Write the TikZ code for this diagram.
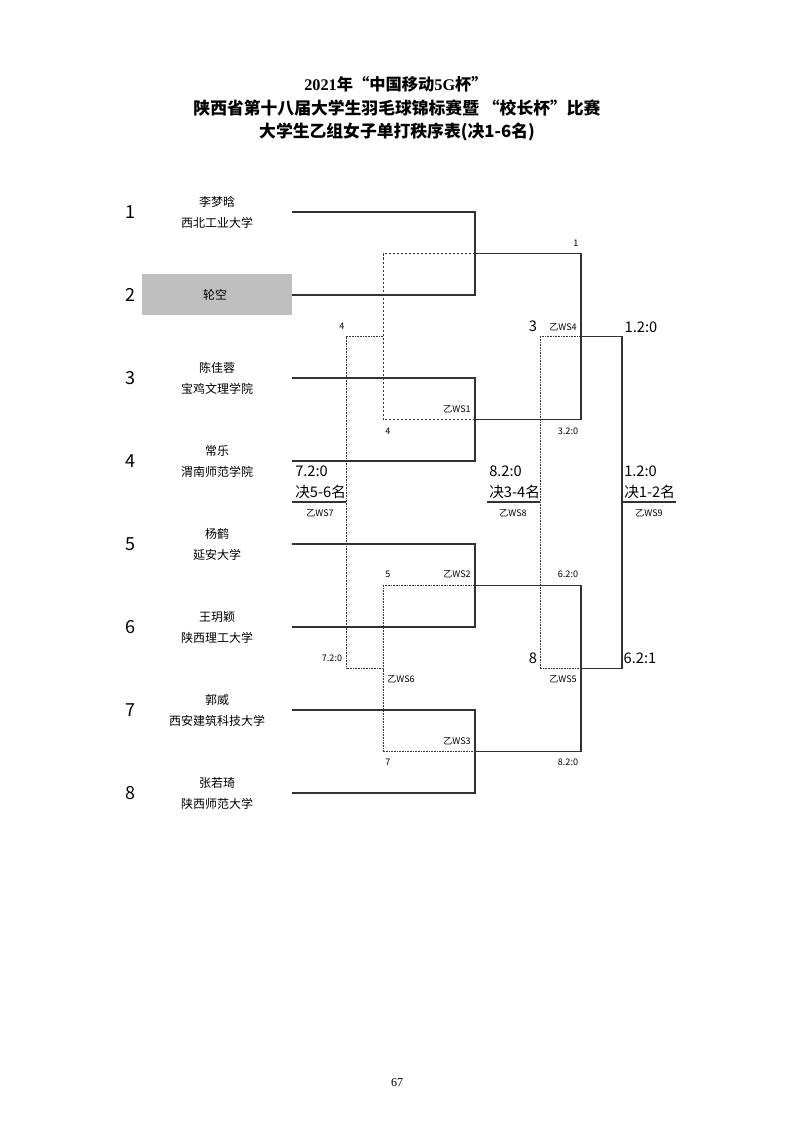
\documentclass[tikz,border=0pt]{standalone}
\usepackage{fontspec}
\setmainfont{Noto Sans CJK SC}
\newfontfamily\seriffont{Liberation Serif}
\usetikzlibrary{positioning}

\definecolor{byegray}{RGB}{191,191,191}
\definecolor{linegray}{RGB}{50,50,50}

\tikzset{
  bline/.style={draw=linegray, line width=0.8pt},
  loserdash/.style={draw=linegray, line width=0.6pt, dash pattern=on 1.8pt off 1.2pt},
  loserdot/.style={draw=linegray, line width=0.6pt, dash pattern=on 0.6pt off 0.6pt},
  seednum/.style={font=\fontsize{13.5}{15}\selectfont, inner sep=0pt},
  pname/.style={font=\fontsize{9}{11}\selectfont, inner sep=0pt},
  biglab/.style={font=\fontsize{11}{13}\selectfont, inner sep=0pt},
  smalllab/.style={font=\fontsize{6.8}{8}\selectfont, inner sep=0pt},
  titlelab/.style={font=\bfseries\fontsize{12.6}{14}\selectfont, inner sep=0pt},
}

\begin{document}
\begin{tikzpicture}[x=0.75pt,y=0.75pt,yscale=-1,xscale=1]
\useasboundingbox (0,0) rectangle (794,1123);

%Title
\node[titlelab, font=\bfseries\fontsize{12.2}{14}\selectfont] (title1) at (396,84) {{\seriffont 2021}年“中国移动{\seriffont 5G}杯”};
\node[titlelab] (title2) at (397,108) {陕西省第十八届大学生羽毛球锦标赛暨\ “校长杯”比赛};
\node[titlelab] (title3) at (397,132) {大学生乙组女子单打秩序表(决1-6名)};

%Bye box
\node[fill=byegray, minimum width=112.5pt, minimum height=30.75pt, inner sep=0pt] (bye) at (217,294.5) {};

%Players
\foreach \i in {1,...,8} {
  \coordinate (p\i) at (292,{129+83*\i});
  \node[seednum] (k\i) at (130,{129+83*\i}) {\i};
}
\foreach \i/\pn/\sn in {1/李梦晗/西北工业大学,3/陈佳蓉/宝鸡文理学院,4/常乐/渭南师范学院,5/杨鹤/延安大学,6/王玥颖/陕西理工大学,7/郭威/西安建筑科技大学,8/张若琦/陕西师范大学} {
  \node[pname] (n\i) at (217,{119+83*\i}) {\pn};
  \node[pname] (s\i) at (217,{139.5+83*\i}) {\sn};
}
\node[pname] (n2) at (215,295) {轮空};

%Match points
\coordinate (w0) at (475,253.5);
\coordinate (ws1) at (475,419.5);
\coordinate (ws2) at (475,585.5);
\coordinate (ws3) at (475,751.5);
\coordinate (ws4) at (581,336.5);
\coordinate (ws5) at (581,668.5);
\coordinate (ws9) at (622,502);
\coordinate (ws9e) at (676,502);
\coordinate (l1) at (383,336.5);
\coordinate (ws6) at (383,668.5);
\coordinate (ws7) at (346,502);
\coordinate (ws7e) at (292,502);
\coordinate (ws8) at (540,502);
\coordinate (ws8e) at (487,502);

%Main bracket
\draw[bline] (p1) -| (w0) |- (p2);
\draw[bline] (p3) -| (ws1) |- (p4);
\draw[bline] (p5) -| (ws2) |- (p6);
\draw[bline] (p7) -| (ws3) |- (p8);
\draw[bline] (w0) -| (ws4) |- (ws1);
\draw[bline] (ws2) -| (ws5) |- (ws3);
\draw[bline] (ws4) -| (ws9) |- (ws5);
\draw[bline] (ws9) -- (ws9e);

%Placing matches
\draw[loserdash] (w0) -| (l1) |- (ws1);
\draw[loserdot] (ws2) -| (ws6) |- (ws3);
\draw[loserdot] (l1) -| (ws7) |- (ws6);
\draw[bline] (ws7) -- (ws7e);
\draw[loserdot] (ws4) -| (ws8) |- (ws5);
\draw[bline] (ws8) -- (ws8e);

%Labels
\node[smalllab] (lab1) at (576,243) {1};
\node[smalllab] (lab4a) at (342,326) {4};
\node[smalllab] (lab4b) at (388,431) {4};
\node[smalllab] (labws1) at (457,409) {乙WS1};
\node[smalllab] (lab32) at (568,431) {3.2:0};
\node[biglab] (lab3) at (533,326) {3};
\node[smalllab] (labws4) at (563,327) {乙WS4};
\node[biglab] (lab12) at (641,327) {1.2:0};

\node[biglab, anchor=west] (sc56) at (295,471) {7.2:0};
\node[biglab, anchor=west] (f56) at (295,492) {决5-6名};
\node[smalllab] (labws7) at (320,513) {乙WS7};
\node[biglab, anchor=west] (sc34) at (489,471) {8.2:0};
\node[biglab, anchor=west] (f34) at (489,492) {决3-4名};
\node[smalllab] (labws8) at (513,513) {乙WS8};
\node[biglab, anchor=west] (sc12) at (624,471) {1.2:0};
\node[biglab, anchor=west] (f12) at (624,492) {决1-2名};
\node[smalllab] (labws9) at (649,513) {乙WS9};

\node[smalllab] (lab5) at (388,574) {5};
\node[smalllab] (labws2) at (457,574) {乙WS2};
\node[smalllab] (lab62) at (568,574) {6.2:0};
\node[smalllab] (lab72) at (332,658) {7.2:0};
\node[smalllab] (labws6) at (401,679) {乙WS6};
\node[biglab] (lab8) at (533,658) {8};
\node[smalllab] (labws5) at (563,679) {乙WS5};
\node[biglab] (lab621) at (640,658) {6.2:1};
\node[smalllab] (labws3) at (457,741) {乙WS3};
\node[smalllab] (lab7) at (388,762) {7};
\node[smalllab] (lab82) at (568,762) {8.2:0};

%Page number
\node[font=\seriffont\fontsize{9}{11}\selectfont, inner sep=0pt] (pagenum) at (397,1083) {67};

\end{tikzpicture}
\end{document}
